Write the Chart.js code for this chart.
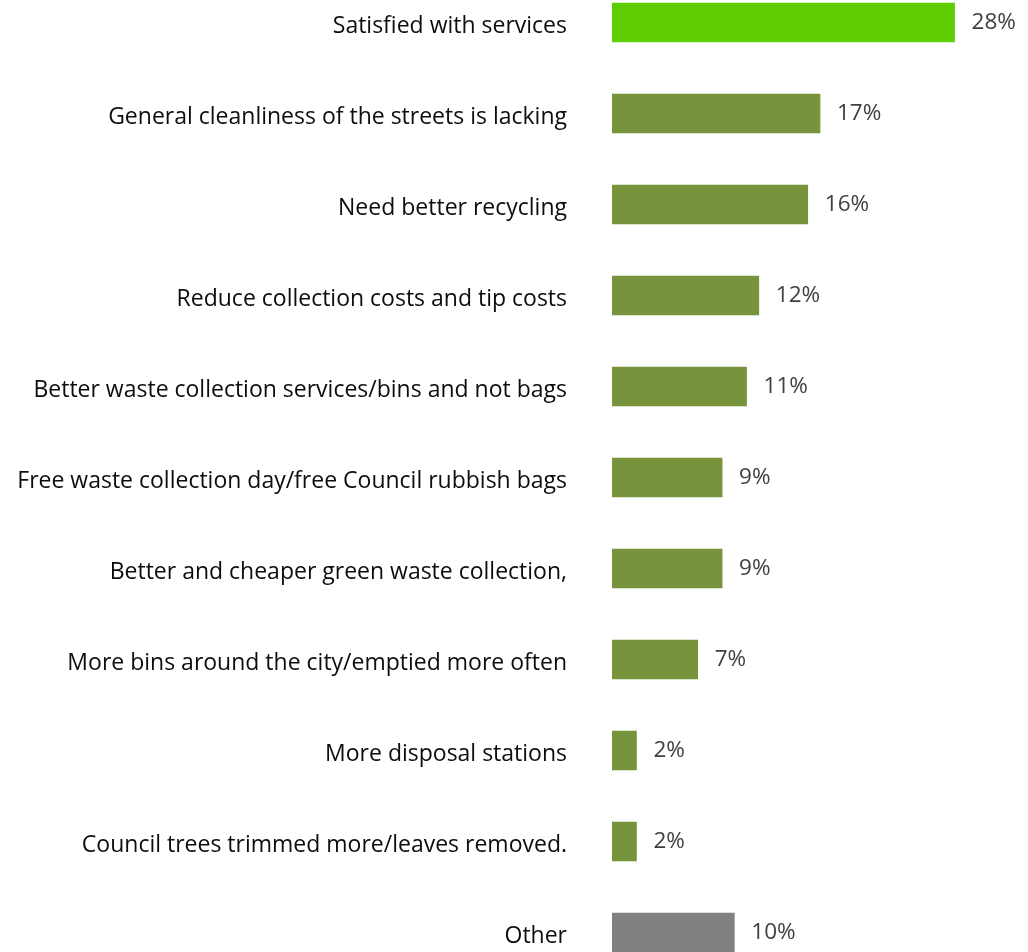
<!DOCTYPE html>
<html>
<head>
<meta charset="utf-8">
<script src="https://cdn.jsdelivr.net/npm/chart.js@4/dist/chart.umd.min.js"></script>
<style>
  html, body { margin: 0; padding: 0; background: #fff; overflow: hidden; }
  #wrap { position: relative; width: 1028px; height: 952px; overflow: hidden; }
  /* canvas runs a little past the page top and bottom so each band is 91px */
  #chart { position: absolute; left: 0; top: -23px; }
</style>
</head>
<body>
<div id="wrap"><canvas id="chart" width="1028" height="1001"></canvas></div>
<script>
const categories = [
    "Satisfied with services",
    "General cleanliness of the streets is lacking",
    "Need better recycling",
    "Reduce collection costs and tip costs",
    "Better waste collection services/bins and not bags",
    "Free waste collection day/free Council rubbish bags",
    "Better and cheaper green waste collection,",
    "More bins around the city/emptied more often",
    "More disposal stations",
    "Council trees trimmed more/leaves removed.",
    "Other"
];
const percentages = [28, 17, 16, 12, 11, 9, 9, 7, 2, 2, 10];
const barColors = [
    "#5FCE00", "#77933C", "#77933C", "#77933C", "#77933C", "#77933C",
    "#77933C", "#77933C", "#77933C", "#77933C", "#808080"
];

const FONT = "'Open Sans', sans-serif";

// writes "NN%" just to the right of each bar
const valueLabels = {
    id: 'valueLabels',
    afterDatasetsDraw(chart) {
        const ctx = chart.ctx;
        const meta = chart.getDatasetMeta(0);
        ctx.save();
        ctx.font = "22.5px " + FONT;
        ctx.fillStyle = "#404040";
        ctx.textAlign = "left";
        ctx.textBaseline = "middle";
        meta.data.forEach((bar, i) => {
            ctx.fillText(percentages[i] + "%", bar.x + 17, bar.y);
        });
        ctx.restore();
    }
};

const chart = new Chart(document.getElementById('chart'), {
    type: 'bar',
    data: {
        labels: categories,
        datasets: [{
            data: percentages,
            backgroundColor: barColors,
            barThickness: 39
        }]
    },
    options: {
        responsive: false,
        indexAxis: 'y',
        animation: false,
        layout: { padding: 0 },
        plugins: {
            legend: { display: false },
            tooltip: { enabled: false }
        },
        scales: {
            x: {
                min: 0,
                max: 34,
                display: false
            },
            y: {
                grid: { display: false, drawTicks: false },
                border: { display: false },
                // fixed label column; tick padding shouldn't push the bars in vertically
                afterFit(scale) {
                    scale.width = 612;
                    scale.paddingTop = 0;
                    scale.paddingBottom = 0;
                },
                ticks: {
                    padding: 45,
                    labelOffset: 4,
                    color: "#0d0d0d",
                    font: { size: 23, family: FONT }
                }
            }
        }
    },
    plugins: [valueLabels]
});
</script>
</body>
</html>
